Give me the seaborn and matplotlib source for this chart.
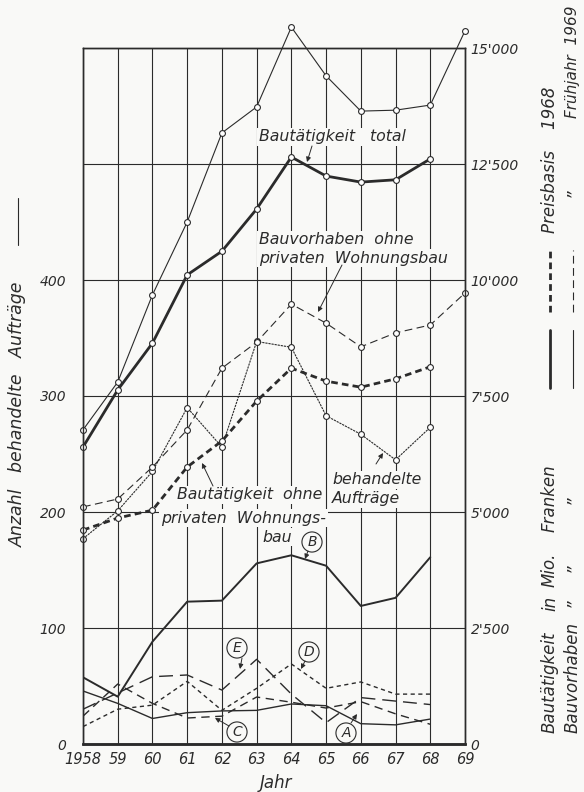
import matplotlib
matplotlib.use("Agg")
import matplotlib.pyplot as plt
from matplotlib.lines import Line2D
import seaborn as sns

# ---------------- data ----------------
years = list(range(1958, 1970))
years_68 = list(range(1958, 1969))
xtick_labels = ["1958", "59", "60", "61", "62", "63", "64", "65", "66", "67", "68", "69"]

# Mio. Franken (right axis)
bautaetigkeit_total = [6400, 7630, 8640, 10110, 10620, 11530, 12650, 12240, 12110, 12160, 12610]
bauvorhaben_total = [6770, 7800, 9680, 11250, 13170, 13730, 15450, 14400, 13640, 13660, 13770, 15370]
bauvorhaben_ohne = [5110, 5280, 5970, 6770, 8100, 8660, 9480, 9070, 8560, 8860, 9030, 9720]
bautaetigkeit_ohne = [4610, 4870, 5040, 5970, 6530, 7390, 8100, 7820, 7690, 7870, 8130]

# Anzahl behandelte Auftraege (left axis)
behandelte = [177, 201, 235, 290, 256, 347, 342, 283, 267, 245, 273]
cat_A = [45.7, 35, 22, 27, 28.5, 29, 34.5, 33, 17.5, 16.5, 21.5]
cat_B = [57.5, 40.8, 88.2, 122.7, 123.6, 155.7, 162.7, 153.7, 119, 126, 161]
cat_C = [24, 51.7, 35, 22.4, 24, 40.5, 36, 31, 36.5, 26, 17]
cat_D = [15, 30, 33.5, 54, 29, 48, 69, 48, 53.5, 43, 43]
cat_E = [30, 44, 58, 59.5, 46.5, 73, 43, 18.4, 40, 37, 34]

left_ticks = [0, 100, 200, 300, 400, 500, 600]
left_labels = ["0", "100", "200", "300", "400", "", ""]
right_ticks = [0, 2500, 5000, 7500, 10000, 12500, 15000]
right_labels = ["0", "2'500", "5'000", "7'500", "10'000", "12'500", "15'000"]

# ---------------- style ----------------
sns.set_style("white")
plt.rcParams["font.family"] = ["DejaVu Sans"]
plt.rcParams["font.style"] = "italic"
ink = "#2b2b2b"
bg = "#f9f9f7"

W, H = 584, 792
fig = plt.figure(figsize=(W / 100, H / 100), dpi=100, facecolor=bg)
ax = fig.add_axes([83 / W, 48 / H, 382 / W, 696 / H])
ax.set_facecolor(bg)
ax.set_xlim(1958, 1969)
ax.set_ylim(0, 600)
ax2 = ax.twinx()
ax2.set_ylim(0, 15000)

ax.set_xticks(years)
ax.set_xticklabels(xtick_labels)
ax.set_yticks(left_ticks)
ax.set_yticklabels(left_labels)
ax2.set_yticks(right_ticks)
ax2.set_yticklabels(right_labels)
ax.grid(True, color=ink, lw=0.8)
ax.set_axisbelow(True)
ax2.grid(False)
ax.tick_params(axis="x", length=0, pad=6, labelsize=10.5, colors=ink)
ax.tick_params(axis="y", length=0, pad=12, labelsize=10, colors=ink)
ax2.tick_params(axis="y", length=0, pad=4, labelsize=10, colors=ink)
for a in (ax, ax2):
    for s in a.spines.values():
        s.set_color(ink)
        s.set_linewidth(1.0)
ax.spines["bottom"].set_linewidth(1.8)
ax2.spines["bottom"].set_linewidth(1.8)
ax.set_xlabel("")
ax.set_ylabel("")
ax2.set_ylabel("")

mk = dict(marker="o", markersize=4.2, markerfacecolor="white",
          markeredgecolor=ink, markeredgewidth=0.8, clip_on=False)

# upper series (Mio. Franken)
sns.lineplot(x=years, y=bauvorhaben_total, ax=ax2, color=ink, lw=0.8, **mk)
sns.lineplot(x=years_68, y=bautaetigkeit_total, ax=ax2, color=ink, lw=2.0, **mk)
sns.lineplot(x=years, y=bauvorhaben_ohne, ax=ax2, color=ink, lw=0.8,
             linestyle=(0, (7, 4)), **mk)
sns.lineplot(x=years_68, y=bautaetigkeit_ohne, ax=ax2, color=ink, lw=2.0,
             linestyle=(0, (2.4, 1.5)), **mk)
sns.lineplot(x=years_68, y=behandelte, ax=ax, color=ink, lw=0.8,
             linestyle=(0, (2, 0.8)), **mk)

# lower series (Anzahl)
sns.lineplot(x=years_68, y=cat_A, ax=ax, color=ink, lw=1.0)
sns.lineplot(x=years_68, y=cat_B, ax=ax, color=ink, lw=1.4)
sns.lineplot(x=years_68, y=cat_C, ax=ax, color=ink, lw=1.0, linestyle=(0, (6, 4)))
sns.lineplot(x=years_68, y=cat_D, ax=ax, color=ink, lw=1.0, linestyle=(0, (3, 2.5)))
sns.lineplot(x=years_68, y=cat_E, ax=ax, color=ink, lw=1.0, linestyle=(0, (10, 5)))


def px2data(x, y):
    return 1958 + (x - 83) / (382 / 11), (744 - y) * 15000 / 696


tbox = dict(boxstyle="square,pad=0.12", fc=bg, ec="none")
arrow = dict(arrowstyle="-|>", color=ink, lw=0.7, mutation_scale=7,
             shrinkA=0, shrinkB=0)


def label(s, x, y, ha="left", size=11.3):
    ax2.text(*px2data(x, y), s, ha=ha, va="center", fontsize=size,
             color=ink, bbox=tbox, zorder=5)


def pointer(x0, y0, x1, y1):
    ax2.annotate("", xy=px2data(x1, y1), xytext=px2data(x0, y0),
                 arrowprops=arrow, zorder=6)


label("Bautätigkeit   total", 259, 137)
pointer(312, 146, 307, 162)
label("Bauvorhaben  ohne", 259, 240)
label("privaten  Wohnungsbau", 259, 258)
pointer(342, 265, 318, 312)
label("Bautätigkeit  ohne", 177, 495)
label("privaten  Wohnungs-", 161, 518)
label("bau", 262, 537)
pointer(213, 486, 202, 463)
label("behandelte", 332, 480)
label("Aufträge", 332, 499)
pointer(376, 464, 383, 453)

circ = dict(boxstyle="circle,pad=0.22", fc=bg, ec=ink, lw=0.8)
for letter, (cx, cy), (p0, p1) in [
    ("B", (312, 542), ((308, 551), (305, 559))),
    ("E", (237, 648), ((242, 658), (240, 669))),
    ("D", (309, 652), ((305, 661), (301, 669))),
    ("C", (237, 732), ((229, 726), (215, 718))),
    ("A", (346, 733), ((351, 723), (357, 714))),
]:
    ax2.text(*px2data(cx, cy), letter, ha="center", va="center", fontsize=10,
             color=ink, bbox=circ, zorder=5)
    pointer(p0[0], p0[1], p1[0], p1[1])

# axis titles
fig.text(276 / W, 1 - 783 / H, "Jahr", ha="center", va="center", fontsize=12, color=ink)
fig.text(18 / W, 1 - 547 / H, "Anzahl   behandelte   Aufträge", rotation=90,
         ha="center", va="bottom", fontsize=12.5, color=ink)
fig.add_artist(Line2D([18 / W, 18 / W], [1 - 245 / H, 1 - 198 / H],
                      transform=fig.transFigure, color=ink, lw=0.8))

# right-hand legend block
c1, c2 = 550, 573
rsize = 12


def vtext(s, x, y, va="center", size=rsize):
    fig.text(x / W, 1 - y / H, s, rotation=90, ha="center", va=va,
             fontsize=size, color=ink)


vtext("Bautätigkeit", c1, 733, va="bottom")
vtext("in", c1, 603)
vtext("Mio.", c1, 570)
vtext("Franken", c1, 498)
vtext("Bauvorhaben", c2, 733, va="bottom")
for yy in (603, 568, 500):
    vtext("\u201d", c2, yy)

fig.add_artist(Line2D([c1 / W] * 2, [1 - 388 / H, 1 - 330 / H], transform=fig.transFigure,
                      color=ink, lw=2.0))
fig.add_artist(Line2D([c1 / W] * 2, [1 - 312 / H, 1 - 250 / H], transform=fig.transFigure,
                      color=ink, lw=2.0, linestyle=(0, (2.4, 1.5))))
fig.add_artist(Line2D([c2 / W] * 2, [1 - 388 / H, 1 - 330 / H], transform=fig.transFigure,
                      color=ink, lw=0.8))
fig.add_artist(Line2D([c2 / W] * 2, [1 - 312 / H, 1 - 250 / H], transform=fig.transFigure,
                      color=ink, lw=0.8, linestyle=(0, (7, 4))))
vtext("Preisbasis    1968", c1, 233, va="bottom")
vtext("\u201d", c2, 193)
vtext("Frühjahr  1969", c2, 118, va="bottom", size=11)

fig.savefig("out.png", dpi=100, facecolor=bg)
